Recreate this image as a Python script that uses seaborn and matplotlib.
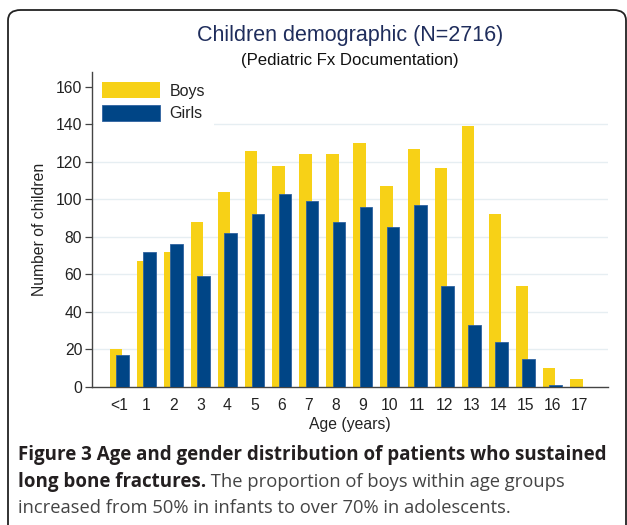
import matplotlib
matplotlib.use("Agg")
import matplotlib.pyplot as plt
import seaborn as sns
import pandas as pd
from matplotlib.patches import Patch, FancyBboxPatch

ages = ["<1", "1", "2", "3", "4", "5", "6", "7", "8", "9", "10", "11", "12", "13", "14", "15", "16", "17"]
boys = [20, 67, 72, 88, 104, 126, 118, 124, 124, 130, 107, 127, 117, 139, 92, 54, 10, 4]
girls = [17, 72, 76, 59, 82, 92, 103, 99, 88, 96, 85, 97, 54, 33, 24, 15, 1, 0]
series_names = ["Boys", "Girls"]
title = "Children demographic (N=2716)"
subtitle = "(Pediatric Fx Documentation)"
caption_bold1 = "Figure 3 Age and gender distribution of patients who sustained"
caption_bold2 = "long bone fractures."
caption_norm2 = " The proportion of boys within age groups"
caption_norm3 = "increased from 50% in infants to over 70% in adolescents."

YELLOW = "#F7D117"
BLUE = "#004586"

sns.set_theme(style="white")
plt.rcParams["font.family"] = ["Liberation Sans", "DejaVu Sans"]

W, H = 627, 525
fig = plt.figure(figsize=(W / 100, H / 100), dpi=100)
ax = fig.add_axes([92 / W, 1 - 386.7 / H, (608 - 92) / W, (386.7 - 72) / H])

df = pd.DataFrame({"age": ages, "Boys": boys, "Girls": girls})
bw = 0.46
off = 0.12
sns.barplot(data=df, x="age", y="Boys", order=ages, color=YELLOW, saturation=1,
            width=bw, ax=ax, edgecolor="none", zorder=2)
n0 = len(ax.patches)
for p in ax.patches:
    p.set_x(p.get_x() - off)
sns.barplot(data=df, x="age", y="Girls", order=ages, color=BLUE, saturation=1,
            width=bw, ax=ax, edgecolor="#2f62a0", linewidth=0.6, zorder=3)
for p in ax.patches[n0:]:
    p.set_x(p.get_x() + off)

ax.set_xlim(-1.0, 18.05)
ax.set_ylim(0, 168)
ax.set_yticks(range(0, 161, 20))
for yv in range(20, 141, 20):
    ax.axhline(yv, color="#e6eef2", lw=1.0, zorder=1)

for s in ["top", "right"]:
    ax.spines[s].set_visible(False)
for s in ["left", "bottom"]:
    ax.spines[s].set_color("#444444")
    ax.spines[s].set_linewidth(1.0)
ax.tick_params(axis="y", length=5, width=0.9, color="#444444", pad=2, labelsize=11.3, labelcolor="#222222", left=True)
ax.tick_params(axis="x", length=0, pad=8, labelsize=11.3, labelcolor="#222222")
ax.set_xlabel("Age (years)", fontsize=11.3, color="#222222", labelpad=3)
ax.set_ylabel("Number of children", fontsize=11.3, color="#222222", labelpad=6)

handles = [Patch(facecolor=YELLOW, edgecolor="none"), Patch(facecolor=BLUE, edgecolor="#2f62a0", linewidth=0.6)]
leg = ax.legend(handles, series_names, loc="upper left", bbox_to_anchor=(0.0, 1.0),
                fontsize=11.5, frameon=True, facecolor="white", edgecolor="none", framealpha=1,
                handlelength=3.6, handleheight=1.15, labelspacing=0.4, handletextpad=0.6,
                borderpad=0.55, borderaxespad=0.1, fancybox=False)
leg.set_zorder(5)
for t in leg.get_texts():
    t.set_color("#222222")

fig.text(350 / W, 1 - 35 / H, title, ha="center", va="center", fontsize=15.5, color="#1f2d5c")
fig.text(350 / W, 1 - 60 / H, subtitle, ha="center", va="center", fontsize=12.1, color="#111111")

# frame
frame = FancyBboxPatch((8 / W, -0.2), (626 - 8) / W, 1.2 - 10 / H,
                       boxstyle="round,pad=0,rounding_size=0.02", transform=fig.transFigure,
                       facecolor="none", edgecolor="#222222", linewidth=1.3, clip_on=False)
fig.patches.append(frame)

# caption
cap_family = ["Open Sans", "DejaVu Sans"]
fig.canvas.draw()
r = fig.canvas.get_renderer()
t1 = fig.text(18 / W, 1 - 455 / H, caption_bold1, ha="left", va="center", fontsize=13,
              fontweight="bold", family=cap_family, color="#231f20")
w1 = t1.get_window_extent(r).width
fs = 13 * (602 - 18) / w1
t1.set_fontsize(fs)
t2 = fig.text(18 / W, 1 - 482 / H, caption_bold2, ha="left", va="center", fontsize=fs,
              fontweight="bold", family=cap_family, color="#231f20")
w2 = t2.get_window_extent(r).width
fig.text((18 + w2) / W, 1 - 482 / H, caption_norm2, ha="left", va="center", fontsize=fs * 0.98,
         family=cap_family, color="#444444")
fig.text(18 / W, 1 - 508 / H, caption_norm3, ha="left", va="center", fontsize=fs * 0.98,
         family=cap_family, color="#444444")

fig.savefig("out.png", dpi=100)
